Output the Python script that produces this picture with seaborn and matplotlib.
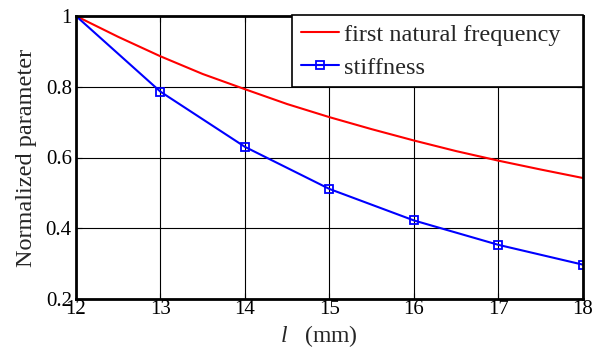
import matplotlib
matplotlib.use("Agg")
import matplotlib.pyplot as plt
import seaborn as sns
import pandas as pd

# Data
freq_x = [12, 12.5, 13, 13.5, 14, 14.5, 15, 15.5, 16, 16.5, 17, 17.5, 18]
freq_y = [1.0, 0.941, 0.886, 0.836, 0.793, 0.751, 0.714, 0.680, 0.648, 0.618, 0.591, 0.566, 0.542]
stiff_x = [12, 13, 14, 15, 16, 17, 18]
stiff_y = [1.0, 0.786, 0.630, 0.511, 0.422, 0.353, 0.297]
x_ticks = [12, 13, 14, 15, 16, 17, 18]
y_ticks = [0.2, 0.4, 0.6, 0.8, 1.0]
y_tick_labels = ["0.2", "0.4", "0.6", "0.8", "1"]

sns.set_style("white")
plt.rcParams['font.family'] = ['Liberation Serif', 'DejaVu Serif']
plt.rcParams['mathtext.fontset'] = 'custom'
plt.rcParams['mathtext.it'] = 'Liberation Serif:italic'
plt.rcParams['mathtext.rm'] = 'Liberation Serif'

fig = plt.figure(figsize=(5.99, 3.52), dpi=100)
ax = fig.add_axes([76/599, 1 - 299/352, (583-76)/599, (299-16)/352])

df_f = pd.DataFrame({"x": freq_x, "y": freq_y})
df_s = pd.DataFrame({"x": stiff_x, "y": stiff_y})

sns.lineplot(data=df_f, x="x", y="y", ax=ax, color="#ff0000", lw=1.5,
             label="first natural frequency")
sns.lineplot(data=df_s, x="x", y="y", ax=ax, color="#0000ff", lw=1.5,
             marker="s", markersize=5.8, markerfacecolor="none",
             markeredgecolor="#0000ff", markeredgewidth=1.3,
             markevery=list(range(1, len(stiff_x))), label="stiffness")

ax.set_xlim(12, 18)
ax.set_ylim(0.2, 1.0)
ax.set_xticks(x_ticks)
ax.set_xticklabels([str(t) for t in x_ticks])
ax.set_yticks(y_ticks)
ax.set_yticklabels(y_tick_labels)
ax.grid(True, color="black", lw=0.8)
ax.set_axisbelow(True)
for s in ax.spines.values():
    s.set_visible(True)
    s.set_color("black")
    s.set_linewidth(2)
ax.tick_params(direction="in", length=4, width=0.8, labelsize=15,
               top=True, right=True, bottom=True, left=True, pad=3, colors="black")
ax.tick_params(axis="x", pad=1)

ax.set_xlabel(r"$l$   (mm)", fontsize=17)
ax.xaxis.set_label_coords(0.48, -0.085)
ax.set_ylabel("Normalized parameter", fontsize=17.5)
ax.yaxis.set_label_coords(-0.077, 0.5)

x0 = (292 - 76) / 507
leg = ax.legend(loc="upper right", fontsize=17.5, frameon=True, fancybox=False,
                borderaxespad=0, handlelength=1.6, handletextpad=0.2,
                borderpad=0.35, labelspacing=0.45, framealpha=1,
                mode="expand", bbox_to_anchor=(x0, 0.0, 1.0 - x0, 1.003))
leg.get_frame().set_edgecolor("black")
leg.get_frame().set_linewidth(1.2)

fig.savefig("out.png", dpi=100)
